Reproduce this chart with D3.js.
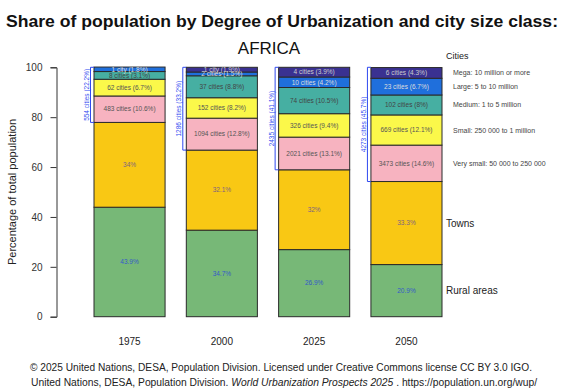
<!DOCTYPE html>
<html lang="en">

<head>
    <meta charset="UTF-8">
    <title>Share of population by Degree of Urbanization - Africa</title>
    <script src="https://d3js.org/d3.v7.min.js"></script>
    <style>
        body { margin: 0; background: #fff; }
        text { font-family: "Liberation Sans", Arial, sans-serif; }
    </style>
</head>

<body>
    <svg id="chart" width="562" height="392"></svg>

    <script>
        // Values (percent of total population)
        const years = ["1975", "2000", "2025", "2050"];
        const rural = [43.9, 34.7, 26.9, 20.9];
        const towns = [34, 32.1, 32, 33.3];
        const verySmall = [10.6, 12.8, 13.1, 14.6];
        const small = [6.7, 8.2, 9.4, 12.1];
        const medium = [3.1, 8.8, 10.5, 8];
        const large = [1.8, 1.5, 4.2, 6.7];
        const mega = [0, 1.9, 3.9, 4.3];

        // Number of cities per size class
        const verySmallCount = [483, 1094, 2021, 3473];
        const smallCount = [62, 152, 326, 669];
        const mediumCount = [8, 37, 74, 102];
        const largeCount = [1, 2, 10, 23];
        const megaCount = [0, 1, 4, 6];

        // Totals shown next to the brackets
        const cityTotal = [554, 1286, 2435, 4273];
        const cityShare = [22.2, 33.2, 41.1, 45.7];

        const yTicks = [0, 20, 40, 60, 80, 100];

        const legendNames = {
            rural: "Rural areas",
            towns: "Towns",
            verySmall: "Very small: 50 000 to 250 000",
            small: "Small: 250 000 to 1 million",
            medium: "Medium: 1 to 5 million",
            large: "Large: 5 to 10 million",
            mega: "Mega: 10 million or more"
        };

        const colors = {
            rural: "#77b877",
            towns: "#f9c814",
            verySmall: "#f7b3c0",
            small: "#fbf84a",
            medium: "#46afa2",
            large: "#1f6fdc",
            mega: "#3a3191"
        };

        const keys = ["rural", "towns", "verySmall", "small", "medium", "large", "mega"];
        const counts = { verySmall: verySmallCount, small: smallCount, medium: mediumCount, large: largeCount, mega: megaCount };

        // build table for d3.stack
        const table = years.map((yr, i) => ({
            year: yr, i: i,
            rural: rural[i], towns: towns[i], verySmall: verySmall[i],
            small: small[i], medium: medium[i], large: large[i], mega: mega[i]
        }));

        const svg = d3.select("#chart");

        const x = d3.scaleBand()
            .domain(years)
            .range([94, 442])
            .paddingInner(0.23)
            .paddingOuter(0);

        const y = d3.scaleLinear()
            .domain([0, 100])
            .range([316.7, 67.3]);

        const series = d3.stack().keys(keys)(table);

        // Title
        svg.append("text")
            .attr("x", 6)
            .attr("y", 27)
            .attr("textLength", 552)
            .attr("lengthAdjust", "spacingAndGlyphs")
            .style("font-size", "17px")
            .style("font-weight", "bold")
            .attr("fill", "#111")
            .text("Share of population by Degree of Urbanization and city size class:");

        svg.append("text")
            .attr("x", 269)
            .attr("y", 54)
            .attr("text-anchor", "middle")
            .style("font-size", "17px")
            .attr("fill", "#111")
            .text("AFRICA");

        // Y axis
        const yAxis = svg.append("g")
            .attr("transform", "translate(56.5,0)")
            .call(d3.axisLeft(y).tickValues(yTicks).tickSize(6).tickPadding(8));
        yAxis.select(".domain").attr("stroke", "#333");
        yAxis.selectAll(".tick line").attr("stroke", "#333");
        yAxis.selectAll(".tick text")
            .style("font-size", "10px")
            .style("font-family", "'Liberation Sans', Arial, sans-serif")
            .attr("fill", "#333");

        svg.append("text")
            .attr("transform", "translate(16," + y(50) + ") rotate(-90)")
            .attr("text-anchor", "middle")
            .style("font-size", "11px")
            .attr("fill", "#222")
            .text("Percentage of total population");

        // X labels (no axis line in the reference)
        svg.append("g")
            .selectAll("text")
            .data(years)
            .join("text")
            .attr("x", d => x(d) + x.bandwidth() / 2)
            .attr("y", 345)
            .attr("text-anchor", "middle")
            .style("font-size", "10px")
            .attr("fill", "#222")
            .text(d => d);

        // Stacked bars
        const layer = svg.append("g")
            .selectAll("g")
            .data(series)
            .join("g")
            .attr("fill", d => colors[d.key]);

        layer.selectAll("rect")
            .data(d => d.filter(p => p[1] - p[0] > 0))
            .join("rect")
            .attr("x", d => x(d.data.year))
            .attr("y", d => y(d[1]))
            .attr("width", x.bandwidth())
            .attr("height", d => y(d[0]) - y(d[1]))
            .attr("stroke", "#2a2a2a")
            .attr("stroke-width", 1);

        // Segment labels
        function segLabel(key, d) {
            const v = d[1] - d[0];
            const i = d.data.i;
            const pct = (+v.toFixed(1)) + "%";
            if (key === "rural" || key === "towns") return pct;
            const n = counts[key][i];
            return n + (n === 1 ? " city" : " cities") + " (" + pct + ")";
        }

        const labelColor = {
            rural: "#3559c8", towns: "#7e6480", verySmall: "#555",
            small: "#555", medium: "#444", large: "#ddd", mega: "#ccc"
        };

        svg.append("g")
            .selectAll("g")
            .data(series)
            .join("g")
            .each(function (s) {
                d3.select(this).selectAll("text")
                    .data(s.filter(p => p[1] - p[0] > 0))
                    .join("text")
                    .attr("x", d => x(d.data.year) + x.bandwidth() / 2)
                    .attr("y", d => y((d[0] + d[1]) / 2) + 2.3)
                    .attr("text-anchor", "middle")
                    .style("font-size", "6.5px")
                    .attr("fill", labelColor[s.key])
                    .text(d => segLabel(s.key, d));
            });

        // City brackets
        const bracket = svg.append("g")
            .selectAll("g")
            .data(table)
            .join("g");

        bracket.append("path")
            .attr("fill", "none")
            .attr("stroke", "#2f49f0")
            .attr("stroke-width", 1)
            .attr("d", d => {
                const left = x(d.year);
                const top = y(100);
                const bottom = y(d.rural + d.towns);
                return `M${left},${top}H${left - 3.5}V${bottom}H${left}`;
            });

        bracket.append("text")
            .attr("transform", d => {
                const mid = (y(100) + y(d.rural + d.towns)) / 2;
                return `translate(${x(d.year) - 5},${mid}) rotate(-90)`;
            })
            .attr("text-anchor", "middle")
            .style("font-size", "6.5px")
            .attr("fill", "#2f49f0")
            .text(d => cityTotal[d.i] + " cities (" + cityShare[d.i] + "%)");

        // Legend aligned with the 2050 segments
        const last = years.length - 1;
        svg.append("text")
            .attr("x", 446)
            .attr("y", 59)
            .style("font-size", "9px")
            .attr("fill", "#222")
            .text("Cities");

        svg.append("g")
            .selectAll("text")
            .data(series)
            .join("text")
            .attr("x", d => (d.key === "rural" || d.key === "towns") ? 446 : 453)
            .attr("y", d => y((d[last][0] + d[last][1]) / 2) + ((d.key === "rural" || d.key === "towns") ? 3.5 : 2.5))
            .style("font-size", d => (d.key === "rural" || d.key === "towns") ? "10px" : "7px")
            .attr("fill", d => (d.key === "rural" || d.key === "towns") ? "#222" : "#444")
            .text(d => legendNames[d.key]);

        // Footer
        svg.append("text")
            .attr("x", 30)
            .attr("y", 371)
            .attr("textLength", 502)
            .attr("lengthAdjust", "spacingAndGlyphs")
            .style("font-size", "10px")
            .attr("fill", "#222")
            .text("© 2025 United Nations, DESA, Population Division. Licensed under Creative Commons license CC BY 3.0 IGO.");

        const foot2 = svg.append("text")
            .attr("x", 284)
            .attr("y", 386)
            .attr("text-anchor", "middle")
            .style("font-size", "10.3px")
            .attr("fill", "#222");
        foot2.append("tspan").text("United Nations, DESA, Population Division. ");
        foot2.append("tspan").style("font-style", "italic").text("World Urbanization Prospects 2025");
        foot2.append("tspan").text(" . https://population.un.org/wup/");
    </script>
</body>

</html>
